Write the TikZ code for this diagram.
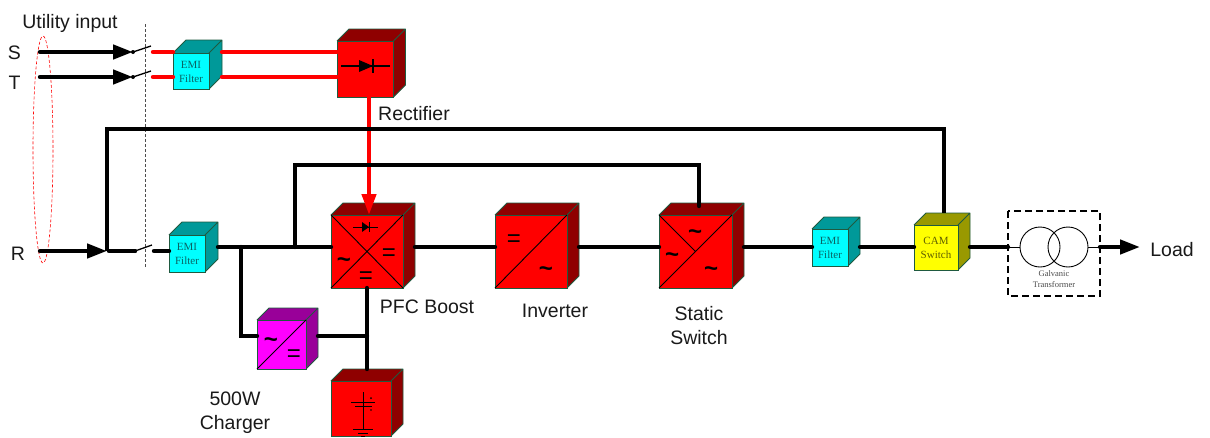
\documentclass[tikz,border=0pt]{standalone}
\usepackage{fontspec}
\setmainfont{Liberation Sans}
\newfontfamily\serifface{Liberation Serif}
\usetikzlibrary{arrows.meta}
\definecolor{edgegreen}{HTML}{1F5A40}
\definecolor{redF}{HTML}{FF0000}
\definecolor{cyanF}{HTML}{00FFFF}
\definecolor{magF}{HTML}{FF00FF}
\definecolor{yelF}{HTML}{FFFF00}
\definecolor{redD}{HTML}{8F0000}
\definecolor{cyanD}{HTML}{009999}
\definecolor{magD}{HTML}{990099}
\definecolor{yelD}{HTML}{999900}
\definecolor{emitext}{HTML}{0A6464}
\definecolor{camtext}{HTML}{5F5F00}
\tikzset{
  x=1pt,y=-1pt,
  facebox/.style={draw=edgegreen,line width=0.8pt,line join=round},
  bus/.style={line width=4.4pt,line cap=round,black},
  redbus/.style={line width=4.4pt,line cap=round,redF},
  inner/.style={line width=0.9pt,black},
  blade/.style={line width=1.3pt,black},
  head/.style={-{Triangle[length=20pt,width=14pt]}},
  lbl/.style={font=\fontsize{19.5}{24}\selectfont,inner sep=0pt,align=center,text=black!90},
  emilbl/.style={font=\serifface\fontsize{11}{14}\selectfont,inner sep=0pt,align=center,text=emitext},
  camlbl/.style={font=\serifface\fontsize{11}{14}\selectfont,inner sep=0pt,align=center,text=camtext},
  galv/.style={font=\serifface\fontsize{8.5}{11}\selectfont,inner sep=0pt,align=center,text=black!70},
  sym/.style={font=\fontsize{24}{24}\selectfont,inner sep=0pt,text=black},
  tld/.style={font=\fontsize{24}{24}\selectfont\bfseries,inner sep=0pt,text=black,yshift=-4pt},
}
% name, x0, y0, x1, y1, depth, front, dark
\newcommand{\cubebox}[8]{%
  \fill[#8] (#2,#3) -- (#2+#6,#3-#6) -- (#4+#6,#3-#6) -- (#4+#6,#5-#6) -- (#4,#5) -- cycle;
  \draw[facebox] (#2,#3) -- (#2+#6,#3-#6) -- (#4+#6,#3-#6) -- (#4+#6,#5-#6) -- (#4,#5) (#4,#3) -- (#4+#6,#3-#6);
  \path[draw=edgegreen,fill=#7,line width=0.8pt] (#2,#3) rectangle (#4,#5);
  \coordinate (#1nw) at (#2,#3);
  \coordinate (#1ne) at (#4,#3);
  \coordinate (#1sw) at (#2,#5);
  \coordinate (#1se) at (#4,#5);
  \coordinate (#1E) at (#4+#6,#3);
  \coordinate (#1N) at (#4,#3-#6);
}
\begin{document}
\begin{tikzpicture}
\useasboundingbox (0,0) rectangle (1210,437);
\fill[white] (0,0) rectangle (1210,437);

% level coordinates
\coordinate (yS) at (0,52);
\coordinate (yT) at (0,77);
\coordinate (yR) at (0,251);
\coordinate (yM) at (0,247);
\coordinate (yTop) at (0,129);
\coordinate (yLoop) at (0,165);
\coordinate (yChg) at (0,336);
\coordinate (yStIn) at (0,206);
\coordinate (xBr) at (241,0);
\coordinate (xLoop) at (295,0);
\coordinate (xBat) at (367,0);
\coordinate (xRed) at (369,0);
\coordinate (xSt) at (699,0);
\coordinate (xCam) at (944,0);

% utility ellipse and boundary
\draw[redF,densely dashed,line width=0.6pt] (43,149.5) ellipse [x radius=10,y radius=113.5];
\draw[black!70,densely dashed,line width=0.8pt] (145,24) -- (145,268);

% cubes
\cubebox{rect}{337}{41}{393.5}{97}{12}{redF}{redD}
\cubebox{emia}{173}{53}{209}{89}{13}{cyanF}{cyanD}
\cubebox{emib}{169}{235}{205}{272}{13}{cyanF}{cyanD}
\cubebox{pfc}{331}{215}{403}{288}{12}{redF}{redD}
\cubebox{chg}{257}{320}{306}{369}{12}{magF}{magD}
\cubebox{bat}{331}{381}{391}{436}{12}{redF}{redD}
\cubebox{inv}{495}{215}{567}{288}{12}{redF}{redD}
\cubebox{sts}{659}{215}{732}{288}{12}{redF}{redD}
\cubebox{emic}{812}{229}{848}{266}{12}{cyanF}{cyanD}
\cubebox{cam}{914}{225}{958}{270}{12}{yelF}{yelD}

% cube inner markings
\draw[inner] (pfcnw) -- (pfcse) (pfcne) -- (pfcsw);
\draw[inner] (chgne) -- (chgsw);
\draw[inner] (invne) -- (invsw);
\draw[inner] (stsne) -- (stssw) (stsnw) -- (695.5,251.5);

% symbols
\node[tld] (s1) at (344,259) {\char`\~};
\node[sym] (s2) at (389,255) {=};
\node[sym] (s3) at (366,278) {=};
\node[tld] (s4) at (271,339) {\char`\~};
\node[sym] (s5) at (294,356) {=};
\node[sym] (s6) at (514,241) {=};
\node[tld] (s7) at (546,268) {\char`\~};
\node[tld] (s8) at (695,231) {\char`\~};
\node[tld] (s9) at (672,254) {\char`\~};
\node[tld] (s10) at (711,268) {\char`\~};

% diodes
\draw[line width=1.2pt] (341,66) -- (390,66);
\fill (359,60) -- (373,66) -- (359,72) -- cycle;
\draw[line width=1.2pt] (373,59) -- (373,73);
\draw[line width=1pt] (353,227) -- (378,227);
\fill (362,222) -- (369,227) -- (362,232) -- cycle;
\draw[line width=1pt] (369,222) -- (369,232);

% battery
\draw[line width=0.9pt] (363,392) -- (363,429);
\draw[line width=0.9pt] (351,402) -- (375,402) (355,406) -- (372,406);
\draw[line width=0.9pt] (353,429) -- (373,429) (358,433) -- (368,433) (361,436) -- (365,436);
\fill (371,398) circle (1pt);
\fill (371,410) circle (0.8pt);

% text in boxes
\node[emilbl] (t1) at (191,71.5) {EMI\\Filter};
\node[emilbl] (t2) at (187,253.5) {EMI\\Filter};
\node[emilbl] (t3) at (830,247.5) {EMI\\Filter};
\node[camlbl] (t4) at (936,247.5) {CAM\\Switch};

% transformer
\draw[line width=1.2pt,dash pattern=on 7pt off 4pt] (1008,211) rectangle (1100,296);
\node[circle,draw,line width=0.9pt,minimum size=40pt,inner sep=0pt] (tl) at (1040,247) {};
\node[circle,draw,line width=0.9pt,minimum size=40pt,inner sep=0pt] (tr) at (1068,247) {};
\coordinate (tbL) at (1008,247);
\coordinate (tbR) at (1100,247);
\draw[line width=0.9pt] (tbL) -- (tl.west);
\draw[line width=0.9pt] (tr.east) -- (tbR);
\node[galv] (t5) at (1054,279) {Galvanic\\Transformer};

% switches
\coordinate (swS) at (133,52);
\coordinate (swT) at (133,77);
\coordinate (swR) at (135,251);
\coordinate (inS) at (40,52);
\coordinate (inT) at (40,77);
\coordinate (inR) at (40,251);
\coordinate (jR) at (107,251);
\coordinate (jRb) at (109,251);
\coordinate (outR) at (154,251);
\coordinate (redS) at (153,52);
\coordinate (redT) at (153,77);
\coordinate (loadTip) at (1140,247);

\draw[blade] (swS) -- (151,46);
\draw[blade] (swT) -- (151,71);
\draw[blade] (swR) -- (152,245);
\fill (swS) circle (2pt) (swT) circle (2pt) (swR) circle (2pt);

% red connectors
\draw[redbus] (redS) -- (emianw |- yS);
\draw[redbus] (redT) -- (emianw |- yT);
\draw[redbus] (emiaE |- yS) -- (rectnw |- yS);
\draw[redbus] (emiaE |- yT) -- (rectnw |- yT);
\draw[line width=4.4pt,redF,-{Triangle[length=21pt,width=14pt]}] (xRed |- rectsw) -- (xRed |- pfcnw);

% black connectors
\draw[bus,head,line cap=round] (inS) -- (swS);
\draw[bus,head,line cap=round] (inT) -- (swT);
\draw[bus,head,line cap=round] (inR) -- (jR);
\draw[bus] (jRb) -- (swR);
\draw[bus] (outR) -- (emibnw |- yR);
\draw[bus,line cap=butt,line join=miter] (jR) -- (jR |- yTop) -- (xCam |- yTop) -- (xCam |- camN);
\draw[bus] (emibE |- yM) -- (pfcnw |- yM);
\draw[bus,line join=miter] (xLoop |- yM) -- (xLoop |- yLoop) -- (xSt |- yLoop) -- (xSt |- yStIn);
\draw[bus,line join=miter] (xBr |- yM) -- (xBr |- yChg) -- (chgnw |- yChg);
\draw[bus] (chgE |- yChg) -- (xBat |- yChg);
\draw[bus] (xBat |- pfcsw) -- (xBat |- batN);
\draw[bus] (pfcE |- yM) -- (invnw |- yM);
\draw[bus] (invE |- yM) -- (stsnw |- yM);
\draw[bus] (stsE |- yM) -- (emicnw |- yM);
\draw[bus] (emicE |- yM) -- (camnw |- yM);
\draw[bus] (camE |- yM) -- (tbL);
\draw[bus,head,line cap=round] (tbR) -- (loadTip);

% labels
\node[lbl] (l1) at (70,23) {Utility input};
\node[lbl] (l2) at (14.5,53) {S};
\node[lbl] (l3) at (14.5,83) {T};
\node[lbl] (l4) at (18,254) {R};
\node[lbl] (l5) at (414,114) {Rectifier};
\node[lbl] (l6) at (427,307) {PFC Boost};
\node[lbl] (l7) at (555,311) {Inverter};
\node[lbl] (l8) at (699,326) {Static\\Switch};
\node[lbl] (l9) at (235,412.5) {500W\\Charger};
\node[lbl] (l10) at (1172,250) {Load};
\end{tikzpicture}
\end{document}
